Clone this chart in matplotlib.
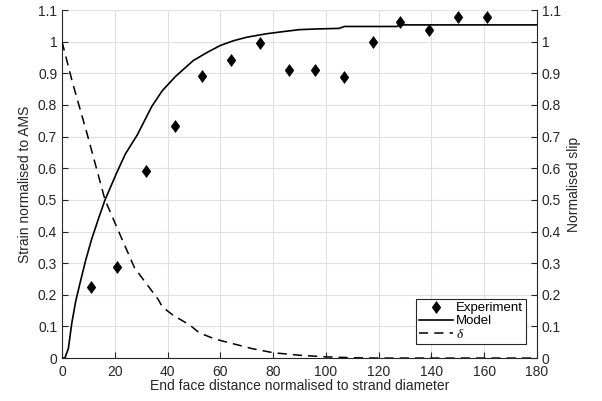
import matplotlib
matplotlib.use("Agg")
import matplotlib.pyplot as plt
from matplotlib.path import Path

plt.rcParams['font.family'] = ['Liberation Sans', 'DejaVu Sans']
plt.rcParams['mathtext.fontset'] = 'custom'
plt.rcParams['mathtext.it'] = 'Liberation Serif:italic'

# Measured strain along the strand
exp_x = [11, 21, 32, 43, 53, 64, 75, 86, 96, 107, 118, 128, 139, 150, 161]
exp_y = [0.225, 0.287, 0.59, 0.735, 0.893, 0.943, 0.996, 0.911, 0.911, 0.889,
         0.999, 1.061, 1.038, 1.077, 1.078]

# Model strain prediction
model_x = [0, 1.1, 2.4, 3.7, 5.2, 6.8, 9, 11.2, 13.8, 16.3, 20.7, 24, 28.5,
           34, 38, 43, 49.7, 55, 60, 65, 70, 77.5, 84, 90, 96, 105, 107,
           127, 128, 180]
model_y = [0, 0, 0.03, 0.11, 0.18, 0.236, 0.31, 0.375, 0.44, 0.5, 0.585, 0.645,
           0.705, 0.795, 0.845, 0.89, 0.94, 0.966, 0.988, 1.003, 1.014, 1.025,
           1.032, 1.038, 1.040, 1.042, 1.048, 1.048, 1.053, 1.053]

# Normalised slip
slip_x = [0, 4, 9.3, 16.3, 22, 27.5, 32, 36.5, 38, 42, 48.5, 52, 58, 65,
          72, 80, 90, 100, 110, 120, 180]
slip_y = [1.0, 0.87, 0.715, 0.5, 0.39, 0.285, 0.235, 0.185, 0.162, 0.136,
          0.104, 0.08, 0.06, 0.045, 0.03, 0.017, 0.009, 0.004, 0.001, 0, 0]

ticks_x = list(range(0, 181, 20))
ticks_y = [round(0.1 * i, 1) for i in range(12)]
tick_labels_y = ['0', '0.1', '0.2', '0.3', '0.4', '0.5', '0.6', '0.7', '0.8',
                 '0.9', '1', '1.1']

# diamond a little wider than matplotlib's thin 'd'
diamond = Path([(0, 1), (0.72, 0), (0, -1), (-0.72, 0), (0, 1)],
               [Path.MOVETO, Path.LINETO, Path.LINETO, Path.LINETO,
                Path.CLOSEPOLY])

fig = plt.figure(figsize=(6.02, 4.01), dpi=100)
ax = fig.add_axes([0.103, 0.107, 0.789, 0.868])

h_exp, = ax.plot(exp_x, exp_y, linestyle='none', marker=diamond, markersize=8.5,
                 color='black', markeredgewidth=0.5, label='Experiment', zorder=4)
h_model, = ax.plot(model_x, model_y, color='black', linewidth=1.2,
                   label='Model', zorder=3)

ax.set_xlim(0, 180)
ax.set_ylim(0, 1.1)
ax.set_xticks(ticks_x)
ax.set_yticks(ticks_y)
ax.set_yticklabels(tick_labels_y)
ax.grid(True, color='#e0e0e0', linewidth=0.8)
ax.set_axisbelow(True)
ax.tick_params(direction='in', length=4, labelsize=10, colors='#262626',
               right=False, top=False)
ax.tick_params(axis='x', pad=5)
ax.spines['top'].set_visible(False)
ax.spines['right'].set_visible(False)
for s in ('left', 'bottom'):
    ax.spines[s].set_color('#262626')
ax.set_xlabel('End face distance normalised to strand diameter', fontsize=10,
              labelpad=0, color='#262626')
ax.set_ylabel('Strain normalised to AMS', fontsize=10, labelpad=4,
              color='#262626')

ax2 = ax.twinx()
h_slip, = ax2.plot(slip_x, slip_y, color='black', linewidth=1.1,
                   linestyle=(0, (6, 4)), label=r'$\delta$')
ax2.set_ylim(0, 1.1)
ax2.set_yticks(ticks_y)
ax2.set_yticklabels(tick_labels_y)
ax2.tick_params(direction='in', length=4, labelsize=10, colors='#262626')
ax2.spines['top'].set_visible(False)
ax2.spines['left'].set_visible(False)
ax2.spines['bottom'].set_visible(False)
ax2.spines['right'].set_color('#262626')
ax2.set_ylabel('Normalised slip', fontsize=10, labelpad=4, color='#262626')

leg = ax2.legend([h_exp, h_model, h_slip], ['Experiment', 'Model', r'$\delta$'],
                 loc='lower right', bbox_to_anchor=(0.977, 0.04),
                 fontsize=9.5, frameon=True, fancybox=False, framealpha=1,
                 edgecolor='#262626', borderpad=0.25, labelspacing=0.05,
                 handlelength=2.6, handletextpad=0.2, borderaxespad=0)
leg.get_frame().set_linewidth(0.8)

fig.savefig('out.png', dpi=100)
